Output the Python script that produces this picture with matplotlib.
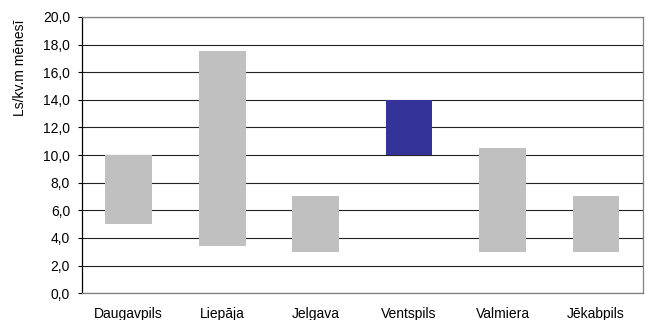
import matplotlib
matplotlib.use("Agg")
import matplotlib.pyplot as plt
import numpy as np

plt.rcParams["font.family"] = ["Liberation Sans", "DejaVu Sans"]

cities = ["Daugavpils", "Liepāja", "Jelgava", "Ventspils", "Valmiera", "Jēkabpils"]
low = [5.0, 3.4, 3.0, 10.0, 3.0, 3.0]
high = [10.0, 17.5, 7.0, 14.0, 10.5, 7.0]
colors = ["#c0c0c0", "#c0c0c0", "#c0c0c0", "#333399", "#c0c0c0", "#c0c0c0"]

fig = plt.figure(figsize=(6.5, 3.2), dpi=100)
ax = fig.add_axes([0.126, 0.084, 0.863, 0.863])

x = np.arange(len(cities))
ax.bar(x, np.array(high) - np.array(low), 0.5, bottom=low, color=colors, zorder=3)

ticks = np.arange(0, 20.1, 2)
ax.set_ylim(0, 20)
ax.set_xlim(-0.5, len(cities) - 0.5)
ax.set_yticks(ticks)
ax.set_yticklabels([f"{v:.1f}".replace(".", ",") for v in ticks], fontsize=10)
ax.set_xticks(x)
ax.set_xticklabels(cities, fontsize=10)
ax.tick_params(axis="x", length=0, pad=10)
ax.tick_params(axis="y", length=3, width=0.8, direction="out", pad=5.5)
ax.yaxis.grid(True, color="#222222", linewidth=0.8, zorder=0)
ax.set_axisbelow(True)

for side in ["top", "right", "bottom"]:
    ax.spines[side].set_color("#808080")
    ax.spines[side].set_linewidth(0.9)
ax.spines["left"].set_color("black")
ax.spines["left"].set_linewidth(0.9)

ax.set_ylabel("Ls/kv.m mēnesī", fontsize=10)
ax.yaxis.set_label_coords(-0.098, 0.815)

fig.savefig("out.png", dpi=100)
